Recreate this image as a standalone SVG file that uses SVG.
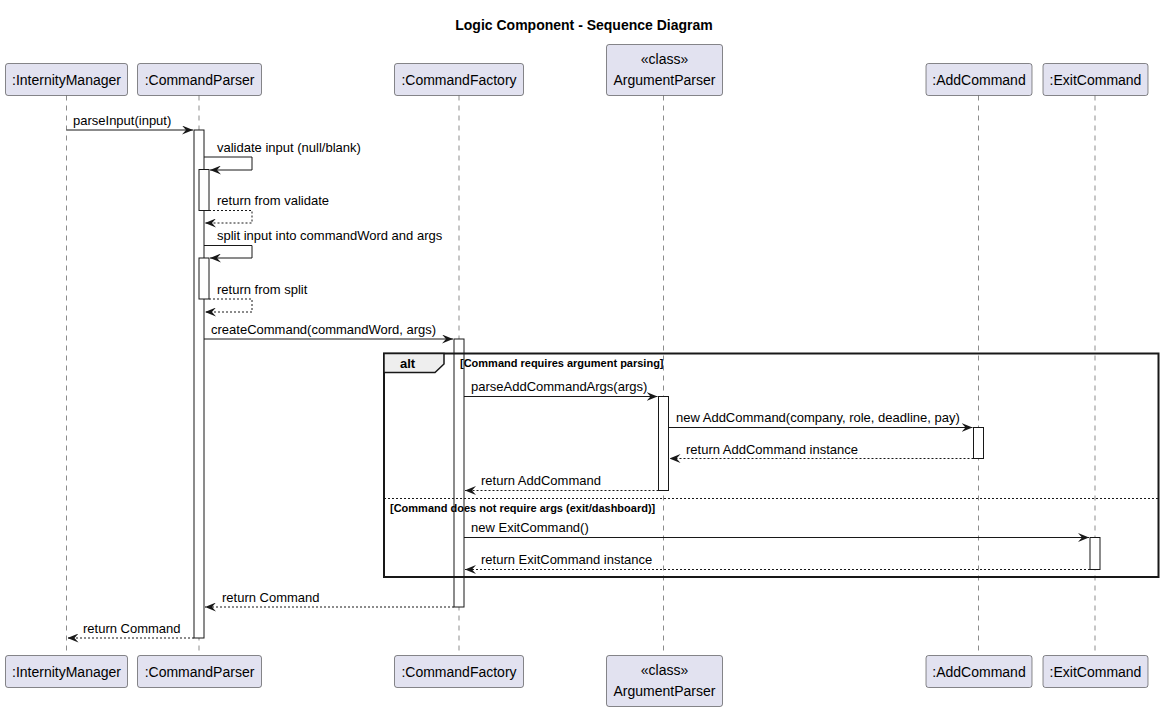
<svg xmlns="http://www.w3.org/2000/svg" width="1164" height="712" viewBox="0 0 1164 712">
<defs>
<style>
.box{fill:#E2E2F0;stroke:#181818;stroke-width:0.5}
.pt{font-family:"Liberation Sans",Arial,sans-serif;font-size:14px;fill:#000;text-anchor:middle}
.life{stroke:#181818;stroke-width:0.5;stroke-dasharray:5,5;fill:none}
.act{fill:#FFFFFF;stroke:#181818;stroke-width:1}
.msg{stroke:#181818;stroke-width:1;fill:none}
.ret{stroke:#181818;stroke-width:1;fill:none;stroke-dasharray:2,2}
.ml{font-family:"Liberation Sans",Arial,sans-serif;font-size:13px;fill:#000}
.gd{font-family:"Liberation Sans",Arial,sans-serif;font-size:11px;font-weight:bold;fill:#000}
.title{font-family:"Liberation Sans",Arial,sans-serif;font-size:14px;font-weight:bold;fill:#000;text-anchor:middle}
</style>
<marker id="ah" viewBox="0 0 11 9" refX="11" refY="4.5" markerWidth="11" markerHeight="9" markerUnits="userSpaceOnUse" orient="auto">
<polygon points="0,0 11,4.5 0,9 4,4.5" fill="#181818"/>
</marker>
</defs>
<rect width="1164" height="712" fill="#FFFFFF"/>
<text class="title" x="584" y="30">Logic Component - Sequence Diagram</text>

<g id="lifelines">
<line class="life" x1="66.5" y1="95.5" x2="66.5" y2="655.5"/>
<line class="life" x1="199" y1="95.5" x2="199" y2="655.5"/>
<line class="life" x1="459" y1="95.5" x2="459" y2="655.5"/>
<line class="life" x1="663.5" y1="95.5" x2="663.5" y2="655.5"/>
<line class="life" x1="978.5" y1="95.5" x2="978.5" y2="655.5"/>
<line class="life" x1="1095" y1="95.5" x2="1095" y2="655.5"/>
</g>

<g id="InternityManager">
<rect class="box" x="5.5" y="63.5" width="122" height="32" rx="2.5"/>
<text class="pt" x="66.5" y="84.5">:InternityManager</text>
<rect class="box" x="5.5" y="655.5" width="122" height="32" rx="2.5"/>
<text class="pt" x="66.5" y="676.5">:InternityManager</text>
</g>
<g id="CommandParser">
<rect class="box" x="137.5" y="63.5" width="124" height="32" rx="2.5"/>
<text class="pt" x="199.5" y="84.5">:CommandParser</text>
<rect class="box" x="137.5" y="655.5" width="124" height="32" rx="2.5"/>
<text class="pt" x="199.5" y="676.5">:CommandParser</text>
</g>
<g id="CommandFactory">
<rect class="box" x="394.5" y="63.5" width="129" height="32" rx="2.5"/>
<text class="pt" x="459" y="84.5">:CommandFactory</text>
<rect class="box" x="394.5" y="655.5" width="129" height="32" rx="2.5"/>
<text class="pt" x="459" y="676.5">:CommandFactory</text>
</g>
<g id="ArgumentParser">
<rect class="box" x="606.5" y="44.5" width="116" height="51" rx="2.5"/>
<text class="pt" x="664.5" y="63.5">«class»</text>
<text class="pt" x="664.5" y="84.5">ArgumentParser</text>
<rect class="box" x="606.5" y="655.5" width="116" height="51" rx="2.5"/>
<text class="pt" x="664.5" y="674.5">«class»</text>
<text class="pt" x="664.5" y="695.5">ArgumentParser</text>
</g>
<g id="AddCommand">
<rect class="box" x="926" y="63.5" width="106" height="32" rx="2.5"/>
<text class="pt" x="979" y="84.5">:AddCommand</text>
<rect class="box" x="926" y="655.5" width="106" height="32" rx="2.5"/>
<text class="pt" x="979" y="676.5">:AddCommand</text>
</g>
<g id="ExitCommand">
<rect class="box" x="1043" y="63.5" width="105" height="32" rx="2.5"/>
<text class="pt" x="1095.5" y="84.5">:ExitCommand</text>
<rect class="box" x="1043" y="655.5" width="105" height="32" rx="2.5"/>
<text class="pt" x="1095.5" y="676.5">:ExitCommand</text>
</g>

<g id="activations">
<rect class="act" x="194" y="130" width="10" height="508"/>
<rect class="act" x="199" y="169.5" width="10" height="41"/>
<rect class="act" x="199" y="258" width="10" height="41"/>
<rect class="act" x="454" y="339" width="10" height="268"/>
<rect class="act" x="658.5" y="396.5" width="10" height="94"/>
<rect class="act" x="973.5" y="427.5" width="10" height="31"/>
<rect class="act" x="1090" y="537.5" width="10" height="32"/>
</g>

<g id="alt-frame">
<rect x="384" y="353.5" width="774.5" height="223.5" fill="none" stroke="#181818" stroke-width="2"/>
<polygon points="384,353.5 444,353.5 444,364 435,372.5 384,372.5" fill="#EEEEEE" stroke="#181818" stroke-width="1.5"/>
<text x="400" y="368" font-family="Liberation Sans, Arial, sans-serif" font-size="13" font-weight="bold" fill="#000">alt</text>
<text class="gd" x="460" y="367">[Command requires argument parsing]</text>
<line x1="384" y1="498.5" x2="1158.5" y2="498.5" stroke="#181818" stroke-width="1" stroke-dasharray="2,2"/>
<text class="gd" x="390" y="512">[Command does not require args (exit/dashboard)]</text>
</g>

<g id="connectors">
<line class="msg" x1="66.5" y1="130" x2="193" y2="130" marker-end="url(#ah)"/>
<text class="ml" x="73" y="125">parseInput(input)</text>

<polyline class="msg" points="204,157 252,157 252,170 210,170" marker-end="url(#ah)"/>
<text class="ml" x="217" y="152">validate input (null/blank)</text>

<polyline class="ret" points="209,210.5 252,210.5 252,223 205,223" marker-end="url(#ah)"/>
<text class="ml" x="217" y="205">return from validate</text>

<polyline class="msg" points="204,245.5 252,245.5 252,258 210,258" marker-end="url(#ah)"/>
<text class="ml" x="217" y="240">split input into commandWord and args</text>

<polyline class="ret" points="209,299 252,299 252,312 205,312" marker-end="url(#ah)"/>
<text class="ml" x="217" y="294">return from split</text>

<line class="msg" x1="204" y1="339" x2="453" y2="339" marker-end="url(#ah)"/>
<text class="ml" x="211" y="334">createCommand(commandWord, args)</text>

<line class="msg" x1="464" y1="396.5" x2="657.5" y2="396.5" marker-end="url(#ah)"/>
<text class="ml" x="471" y="391">parseAddCommandArgs(args)</text>

<line class="msg" x1="668.5" y1="427.5" x2="972.5" y2="427.5" marker-end="url(#ah)"/>
<text class="ml" x="676" y="422">new AddCommand(company, role, deadline, pay)</text>

<line class="ret" x1="973.5" y1="458.5" x2="669.5" y2="458.5" marker-end="url(#ah)"/>
<text class="ml" x="686" y="454">return AddCommand instance</text>

<line class="ret" x1="658.5" y1="490.5" x2="465" y2="490.5" marker-end="url(#ah)"/>
<text class="ml" x="481" y="485">return AddCommand</text>

<line class="msg" x1="464" y1="537.5" x2="1089" y2="537.5" marker-end="url(#ah)"/>
<text class="ml" x="471" y="532">new ExitCommand()</text>

<line class="ret" x1="1090" y1="569.5" x2="465" y2="569.5" marker-end="url(#ah)"/>
<text class="ml" x="481" y="564">return ExitCommand instance</text>

<line class="ret" x1="454" y1="607" x2="205" y2="607" marker-end="url(#ah)"/>
<text class="ml" x="222" y="602">return Command</text>

<line class="ret" x1="194" y1="638" x2="67.5" y2="638" marker-end="url(#ah)"/>
<text class="ml" x="83" y="633">return Command</text>
</g>
</svg>
